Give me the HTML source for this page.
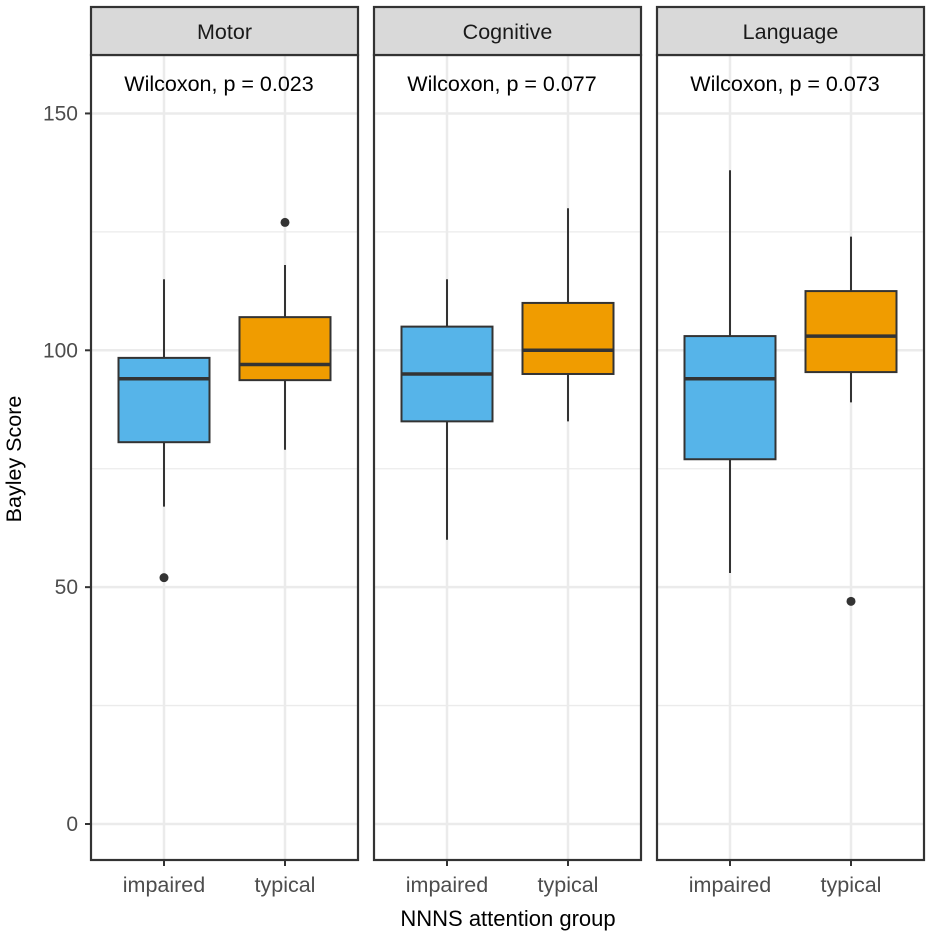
<!DOCTYPE html>
<html><head><meta charset="utf-8"><style>
html,body{margin:0;padding:0;background:#fff;}
svg{display:block;font-family:"Liberation Sans",Arial,sans-serif;}
</style></head><body>
<svg id="chart" width="933" height="939" xmlns="http://www.w3.org/2000/svg"></svg>
<script>
const facets = ["Motor","Cognitive","Language"];
const pvalues = ["0.023","0.077","0.073"];
const groups = ["impaired","typical"];
const yTicks = [0,50,100,150];
const yMinor = [25,75,125];
// [lowerWhisker, Q1, median, Q3, upperWhisker]
const motorStats = [[67,80.6,94,98.4,115],[79,93.7,97,107,118]];
const cognitiveStats = [[60,85,95,105,115],[85,95,100,110,130]];
const languageStats = [[53,77,94,103,138],[89,95.4,103,112.5,124]];
const motorOutliers = [[52],[127]];
const cognitiveOutliers = [[],[]];
const languageOutliers = [[],[47]];
const allStats = [motorStats,cognitiveStats,languageStats];
const allOutliers = [motorOutliers,cognitiveOutliers,languageOutliers];
const fills = ["#56b4e9","#f09c00"];

const NS="http://www.w3.org/2000/svg";
const svg=document.getElementById('chart');
function mk(tag,attrs,parent){const e=document.createElementNS(NS,tag);for(const k in attrs)e.setAttribute(k,attrs[k]);(parent||svg).appendChild(e);return e;}
const panelX=[91,374,657], panelW=267, panelTop=55, panelBottom=860;
function y(v){return 824 - v*4.737;}
function x(p,i){return panelX[p]+73+i*121;}

yTicks.forEach(t=>{
  const tx=mk('text',{x:78,y:y(t)+7,'text-anchor':'end','font-size':21,fill:'#4d4d4d'});
  tx.textContent=t;
  
  
  const tk=mk('line',{x1:85,x2:91,y1:y(t),y2:y(t),stroke:'#333','stroke-width':2});
  
  
});
const yt=mk('text',{x:0,y:0,transform:'translate(21,459) rotate(-90)','text-anchor':'middle','font-size':21.5,fill:'#000'});
yt.textContent='Bayley Score';


const xt=mk('text',{x:508,y:926,'text-anchor':'middle','font-size':22,fill:'#000'});
xt.textContent='NNNS attention group';



facets.forEach((f,p)=>{
  const g=mk('g',{});
  
  
  yMinor.forEach(t=>{const l=mk('line',{x1:panelX[p],x2:panelX[p]+panelW,y1:y(t),y2:y(t),stroke:'#ebebeb','stroke-width':1.3},g);
    
    });
  yTicks.forEach(t=>{const l=mk('line',{x1:panelX[p],x2:panelX[p]+panelW,y1:y(t),y2:y(t),stroke:'#ebebeb','stroke-width':2.5},g);
    
    });
  groups.forEach((gr,i)=>{const l=mk('line',{x1:x(p,i),x2:x(p,i),y1:panelTop,y2:panelBottom,stroke:'#ebebeb','stroke-width':2.5},g);
    
    });
  groups.forEach((gr,i)=>{
    const s=allStats[p][i], cx=x(p,i);
    const w1=mk('line',{x1:cx,x2:cx,y1:y(s[4]),y2:y(s[0]),stroke:'#333','stroke-width':2},g);
    
    
    const b=mk('rect',{x:cx-45.5,y:y(s[3]),width:91,height:y(s[1])-y(s[3]),fill:fills[i],stroke:'#333','stroke-width':2},g);
    
    
    const m=mk('line',{x1:cx-45.5,x2:cx+45.5,y1:y(s[2]),y2:y(s[2]),stroke:'#333','stroke-width':3.5},g);
    
    
    allOutliers[p][i].forEach(o=>{const c=mk('circle',{cx:cx,cy:y(o),r:4.5,fill:'#333'},g);
      
      });
    const lb=mk('text',{x:cx,y:892,'text-anchor':'middle','font-size':21.5,fill:'#4d4d4d'});
    lb.textContent=gr;
    
    
    const tk=mk('line',{x1:cx,x2:cx,y1:panelBottom,y2:panelBottom+6,stroke:'#333','stroke-width':2});
    
    
  });
  const wt=mk('text',{x:panelX[p]+128,y:91,'text-anchor':'middle','font-size':21.5,fill:'#000'},g);
  wt.textContent='Wilcoxon, p = '+pvalues[p];
  
  
  const br=mk('rect',{x:panelX[p],y:panelTop,width:panelW,height:panelBottom-panelTop,fill:'none',stroke:'#333','stroke-width':2.2},g);
  
  
  const st=mk('rect',{x:panelX[p],y:7,width:panelW,height:48,fill:'#d9d9d9',stroke:'#333','stroke-width':2.2},g);
  
  
  const stt=mk('text',{x:panelX[p]+panelW/2,y:39,'text-anchor':'middle','font-size':21.5,fill:'#1a1a1a'},g);
  stt.textContent=f;
  
  
});
</script>
</body></html>
